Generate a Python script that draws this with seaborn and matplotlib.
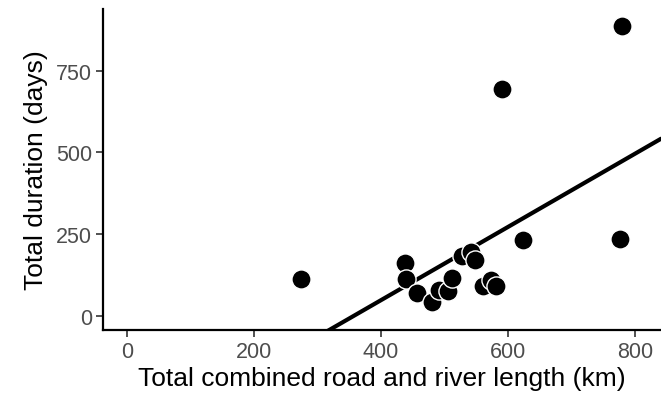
import pandas as pd
import matplotlib
matplotlib.use("Agg")
import matplotlib.pyplot as plt
import seaborn as sns

# values
length_km = [274, 437, 440, 457, 480, 491, 505, 512, 528, 542, 548,
             560, 573, 581, 591, 623, 776, 780]
duration_days = [112, 162, 114, 71, 41, 79, 75, 116, 184, 196, 170,
                 92, 111, 92, 694, 232, 234, 888]
x_ticks = [0, 200, 400, 600, 800]
y_ticks = [0, 250, 500, 750]

df = pd.DataFrame({"length": length_km, "duration": duration_days})

sns.set_theme(style="ticks")
plt.rcParams["font.family"] = ["Liberation Sans", "DejaVu Sans"]

fig = plt.figure(figsize=(6.61, 4.02), dpi=100)
ax = fig.add_axes([0.156, 0.177, 0.844, 0.798])
ax.set_xlim(-38, 841)
ax.set_ylim(-43, 939)

# fitted line across the whole x range, no confidence band
sns.regplot(data=df, x="length", y="duration", ax=ax, ci=None, truncate=False,
            scatter=False, line_kws={"color": "black", "linewidth": 3})
sns.scatterplot(data=df, x="length", y="duration", ax=ax, color="black",
                s=190, edgecolor="white", linewidth=1, zorder=3)

ax.set_xticks(x_ticks)
ax.set_yticks(y_ticks)
ax.tick_params(labelsize=15.5, labelcolor="#4D4D4D", color="#333333",
               length=5, width=1.2, pad=3)
sns.despine(ax=ax)
for side in ["left", "bottom"]:
    ax.spines[side].set_color("black")
    ax.spines[side].set_linewidth(1.6)

ax.set_xlabel("Total combined road and river length (km)", fontsize=19,
              color="black", labelpad=3)
ax.set_ylabel("Total duration (days)", fontsize=19, color="black", labelpad=6)

fig.savefig("out.png", dpi=100)
